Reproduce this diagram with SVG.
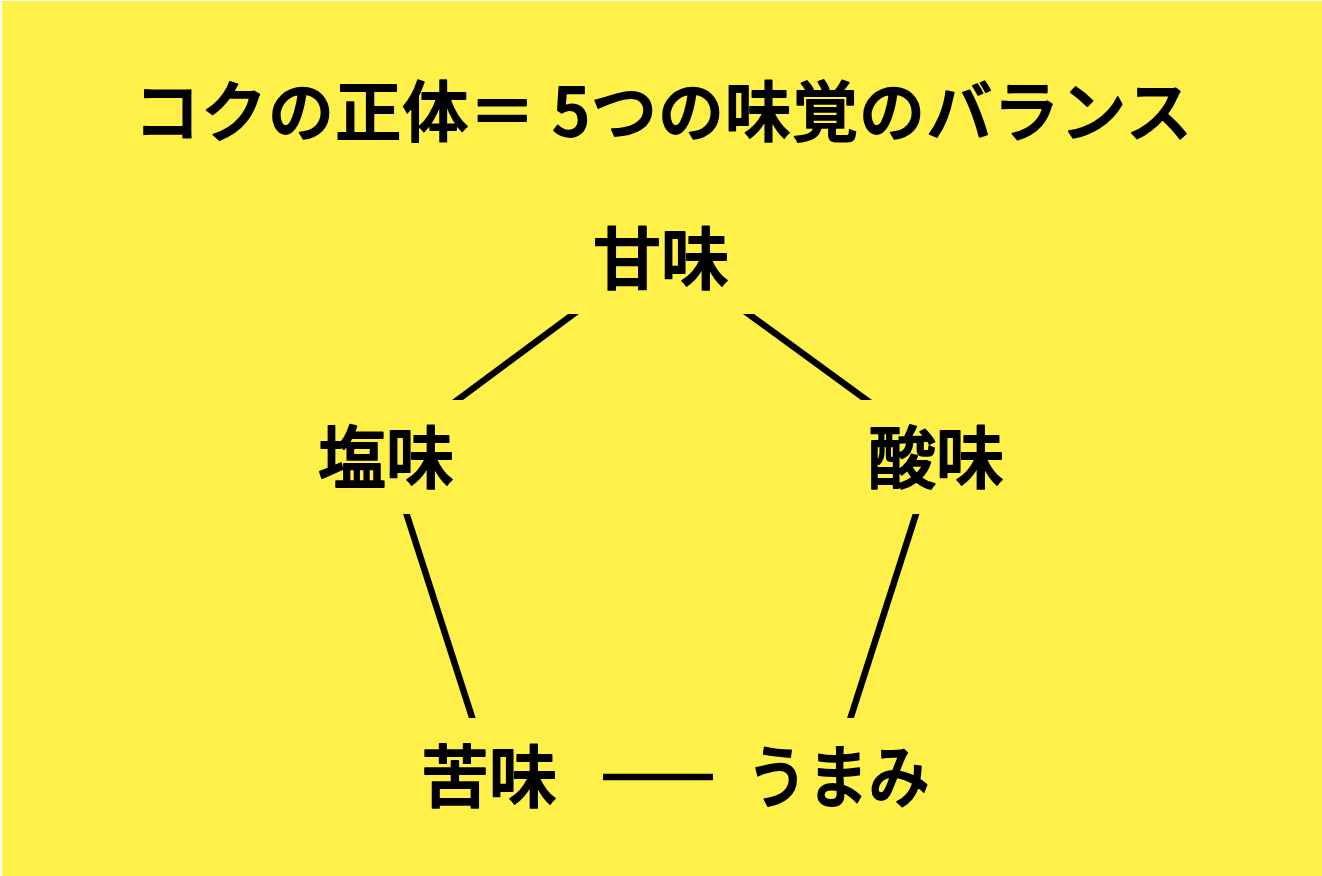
<svg xmlns="http://www.w3.org/2000/svg" width="1322" height="876" viewBox="0 0 1322 876">
<style>
.t{font-family:"Noto Sans CJK JP","Noto Sans CJK SC",sans-serif;font-weight:500;fill:#000;stroke:#000;stroke-width:1.8;stroke-linejoin:round;paint-order:stroke;}
.title{font-size:66px;}
.node{font-size:68px;text-anchor:middle;dominant-baseline:central;}
.conn{stroke:#000;stroke-width:6.5;fill:none;stroke-linecap:butt;}
</style>
<defs>
<clipPath id="cTop"><rect x="0" y="314" width="1322" height="86"/></clipPath>
<clipPath id="cSide"><rect x="0" y="514" width="1322" height="204"/></clipPath>
</defs>
<rect x="0" y="0" width="1322" height="876" fill="#ffffff"/>
<rect x="2" y="1" width="1320" height="875" fill="#FFF04A"/>
<g id="title">
<text class="t title" x="134" y="136" textLength="1058" lengthAdjust="spacing">コクの正体＝ 5つの味覚のバランス</text>
</g>
<g id="connectors">
<line class="conn" clip-path="url(#cTop)" x1="444" y1="410" x2="587" y2="304"/>
<line class="conn" clip-path="url(#cTop)" x1="734.8" y1="304" x2="880.2" y2="410"/>
<line class="conn" clip-path="url(#cSide)" x1="403.3" y1="504" x2="475.5" y2="728"/>
<line class="conn" clip-path="url(#cSide)" x1="919.2" y1="504" x2="847.3" y2="728"/>
<line class="conn" x1="603" y1="777" x2="713" y2="777"/>
</g>
<g id="node-amami"><text class="t node" x="661" y="254">甘味</text></g>
<g id="node-enmi"><text class="t node" x="386" y="453">塩味</text></g>
<g id="node-sanmi"><text class="t node" x="936" y="453">酸味</text></g>
<g id="node-nigami"><text class="t node" x="489" y="772">苦味</text></g>
<g id="node-umami"><text class="t node" x="838" y="772" textLength="183" lengthAdjust="spacingAndGlyphs">うまみ</text></g>
</svg>
